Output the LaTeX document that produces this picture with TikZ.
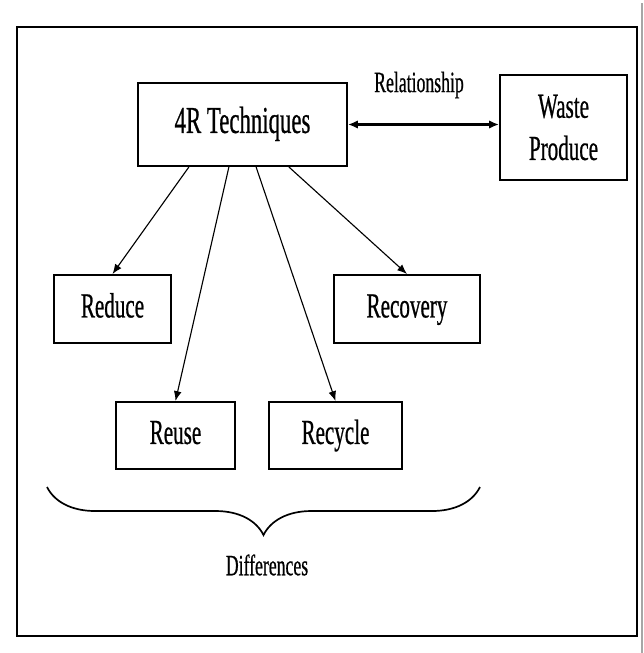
\documentclass[tikz,border=0pt]{standalone}
\usepackage{fontspec}
\setmainfont{Liberation Serif}[FakeStretch=0.6, FakeBold=0.6]
\usetikzlibrary{arrows.meta, decorations.pathreplacing}

\tikzset{
  box/.style = {draw, line width=1.4pt, inner sep=0pt, align=center,
                font=\fontsize{25}{30}\selectfont},
  one/.style = {text height=17pt, text depth=5pt},
  lbl/.style = {inner sep=0pt, font=\fontsize{21}{25}\selectfont},
  arr/.style = {-{Latex[length=7pt, width=5.5pt]}, line width=0.8pt},
  dbl/.style = {{Latex[length=7pt, width=6pt]}-{Latex[length=7pt, width=6pt]}, line width=1.6pt},
}

\begin{document}
\begin{tikzpicture}[x=0.025cm, y=-0.025cm]
\useasboundingbox (0,0) rectangle (644,653);
\draw[line width=1.6pt] (17,27) rectangle (637,636);
\draw[black!35, line width=0.8pt] (642,3) -- (642,653);
% boxes
\node[box, one, minimum width=5.225cm, minimum height=2.075cm, font=\fontsize{27}{32}\selectfont] (tech) at (242.5,124.5) {4R Techniques};
\node[box, minimum width=3.175cm, minimum height=2.625cm] (waste) at (563.5,127.5) {Waste\\Produce};
\node[box, one, minimum width=2.925cm, minimum height=1.7cm] (reduce) at (112.5,309) {Reduce};
\node[box, one, minimum width=3.65cm, minimum height=1.7cm] (recovery) at (407,309) {Recovery};
\node[box, one, minimum width=2.975cm, minimum height=1.675cm] (reuse) at (175.5,435.5) {Reuse};
\node[box, one, minimum width=3.325cm, minimum height=1.675cm] (recycle) at (335.5,435.5) {Recycle};
% labels
\node[lbl] (rel) at (419,85) {Relationship};
\node[lbl] (diff) at (267,565) {Differences};
% arrows
\draw[dbl] (tech.east) -- (tech.east -| waste.west);
\draw[arr] ([xshift=-1.34cm]tech.south) -- (reduce.north);
\draw[arr] ([xshift=-0.34cm]tech.south) -- (reuse.north);
\draw[arr] ([xshift=0.34cm]tech.south) -- (recycle.north);
\draw[arr] ([xshift=1.16cm]tech.south) -- (recovery.north);
% brace
\coordinate (bl) at (47,487);
\coordinate (br) at (480,487);
\draw[line width=1.2pt, decorate, decoration={brace, mirror, amplitude=1.2cm}] (bl) -- (br);
\end{tikzpicture}
\end{document}
